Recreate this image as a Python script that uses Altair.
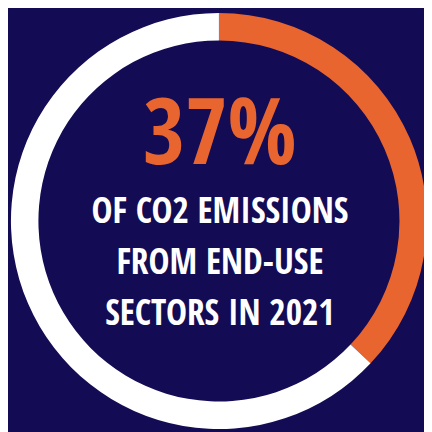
import altair as alt
import pandas as pd

# Data
categories = ["End-use sectors", "Other sources"]
shares = [37, 63]
order = [1, 2]
headline = ["37%"]
caption_lines = ["OF CO2 EMISSIONS", "FROM END-USE", "SECTORS IN 2021"]

BG = "#130C54"
ORANGE = "#E8652F"
FONT = "Open Sans Condensed, Roboto Condensed, sans-serif"

ring_df = pd.DataFrame({"category": categories, "share": shares, "order": order})

cx, cy = 215, 213

ring = alt.Chart(ring_df).mark_arc(innerRadius=184, outerRadius=212, stroke=None).encode(
    theta=alt.Theta("share:Q", stack=True),
    order=alt.Order("order:Q"),
    color=alt.Color("category:N", scale=alt.Scale(domain=categories, range=[ORANGE, "#FFFFFF"]), legend=None),
    x=alt.value(cx),
    y=alt.value(cy),
)

head_df = pd.DataFrame({"text": headline})
head = alt.Chart(head_df).mark_text(
    font=FONT, fontSize=93, fontWeight="bold", color=ORANGE, align="center", baseline="alphabetic"
).encode(text="text:N", x=alt.value(216), y=alt.value(155))

cap_df = pd.DataFrame({"text": caption_lines, "line": list(range(len(caption_lines)))})
cap = alt.Chart(cap_df).mark_text(
    font=FONT, fontSize=36, fontWeight="bold", color="#FFFFFF", align="center", baseline="alphabetic"
).encode(
    text="text:N",
    x=alt.value(216),
    y=alt.Y("line:Q", scale=alt.Scale(domain=[0, 2], range=[215, 319]), axis=None),
)

chart = alt.layer(ring, head, cap).properties(
    width=424, height=424, background=BG, padding=0, autosize=alt.AutoSizeParams(type="none")
).configure_view(stroke=None)

chart.save("out.html", embed_options={"renderer": "svg", "actions": False})
